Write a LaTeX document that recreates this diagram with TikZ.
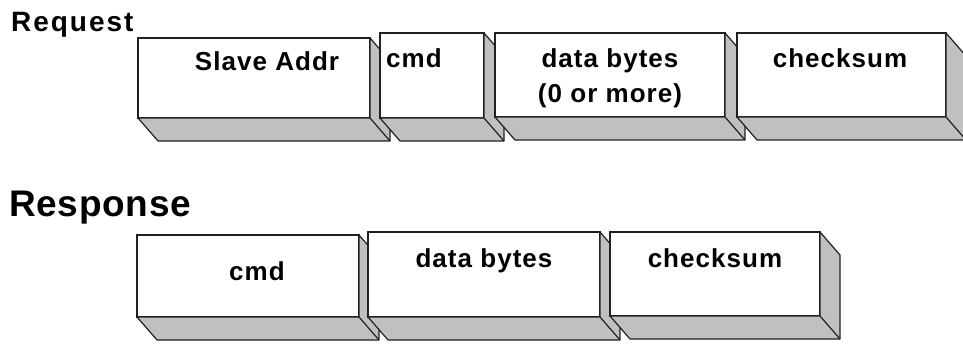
\documentclass[tikz,border=0pt]{standalone}
\usepackage{fontspec}
\setmainfont{Liberation Sans}
\definecolor{facegray}{HTML}{C0C0C0}
\definecolor{edge}{HTML}{202020}
\tikzset{
  field/.style={draw=edge, fill=white, line width=1.2pt, inner sep=0pt,
    outer sep=0pt, anchor=north west},
  side/.style={draw=edge, fill=facegray, line width=1.2pt, line join=round},
  fieldtext/.style={inner sep=0pt, anchor=base,
    font=\bfseries\fontsize{26}{34}\selectfont\addfontfeatures{LetterSpace=4}},
  title/.style={inner sep=0pt, anchor=base west}
}
% right and bottom faces of a field box
\newcommand{\fieldside}[1]{%
  \filldraw[side] (#1.north east) -- ([shift={(20pt,-23pt)}]#1.north east)
    -- ([shift={(20pt,-23pt)}]#1.south east) -- ([shift={(20pt,-23pt)}]#1.south west)
    -- (#1.south west) -- (#1.south east) -- cycle;
  \draw[side] (#1.south east) -- ([shift={(20pt,-23pt)}]#1.south east);
}
\begin{document}
\begin{tikzpicture}[x=1pt,y=-1pt]
  \useasboundingbox (0,0) rectangle (963,347);

  % request frame
  \node[title, font=\bfseries\fontsize{28}{30}\selectfont\addfontfeatures{LetterSpace=7}]
    (request) at (11,32) {Request};
  \node[field, minimum width=232pt, minimum height=80pt] (addr) at (138,38) {};
  \fieldside{addr}
  \node[field, minimum width=104pt, minimum height=85pt] (reqcmd) at (380,33) {};
  \fieldside{reqcmd}
  \node[field, minimum width=230pt, minimum height=84pt] (reqdata) at (495,33) {};
  \fieldside{reqdata}
  \node[field, minimum width=209pt, minimum height=84pt] (reqsum) at (737,33) {};
  \fieldside{reqsum}
  \node[fieldtext] (addrtext) at (267,71) {Slave Addr};
  \node[fieldtext, anchor=base west] (reqcmdtext) at (386,68) {cmd};
  \node[fieldtext] (reqdatatext) at (610,68) {data bytes};
  \node[fieldtext] (reqmoretext) at (610,103) {(0 or more)};
  \node[fieldtext] (reqsumtext) at (840,68) {checksum};

  % response frame
  \node[title, font=\bfseries\fontsize{37}{40}\selectfont\addfontfeatures{LetterSpace=2}]
    (response) at (9,217) {Response};
  \node[field, minimum width=222pt, minimum height=82pt] (rescmd) at (137,235) {};
  \fieldside{rescmd}
  \node[field, minimum width=232pt, minimum height=85pt] (resdata) at (368,232) {};
  \fieldside{resdata}
  \node[field, minimum width=210pt, minimum height=84pt] (ressum) at (610,232) {};
  \fieldside{ressum}
  \node[fieldtext] (rescmdtext) at (257,280) {cmd};
  \node[fieldtext] (resdatatext) at (484,267) {data bytes};
  \node[fieldtext] (ressumtext) at (715,267) {checksum};
\end{tikzpicture}
\end{document}
